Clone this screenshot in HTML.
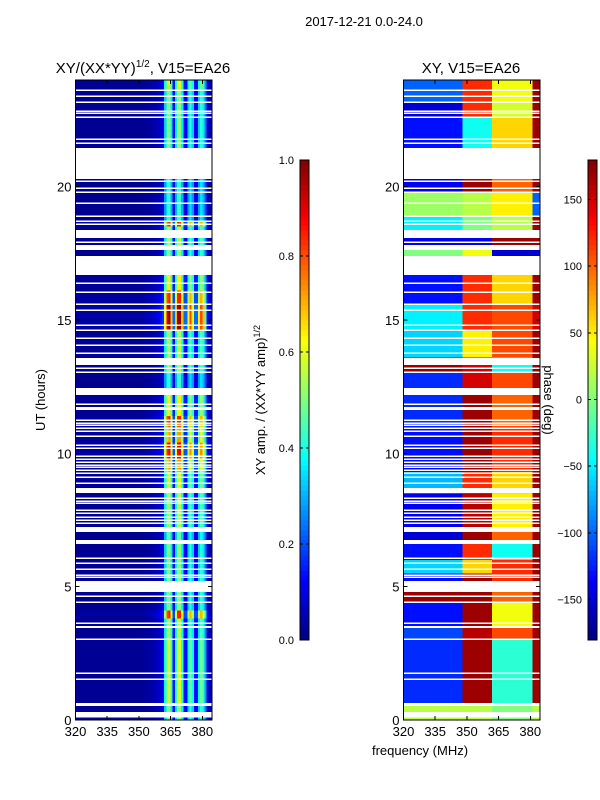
<!DOCTYPE html>
<html><head><meta charset="utf-8"><style>
body{margin:0;background:#fff;}
svg{display:block;font-family:"Liberation Sans",sans-serif;}
</style></head><body>
<svg id="fig" width="600" height="800" xmlns="http://www.w3.org/2000/svg">
<text x="364" y="26" font-size="13" text-anchor="middle">2017-12-21 0.0-24.0</text>
<text x="143" y="73" font-size="15" text-anchor="middle">XY/(XX*YY)<tspan font-size="10" dy="-6">1/2</tspan><tspan dy="6">, V15=EA26</tspan></text>
<text x="471" y="73" font-size="15" text-anchor="middle">XY, V15=EA26</text>
<text x="0" y="0" font-size="13" text-anchor="middle" transform="translate(45,400) rotate(-90)">UT (hours)</text>
<text x="420" y="755" font-size="13" text-anchor="middle">frequency (MHz)</text>
<text x="0" y="0" font-size="13" text-anchor="middle" transform="translate(265,400) rotate(-90)">XY amp. / (XX*YY amp)<tspan font-size="9" dy="-5">1/2</tspan></text>
<text x="0" y="0" font-size="13" text-anchor="middle" transform="translate(544,400) rotate(90)">phase (deg)</text>
<g id="g" shape-rendering="crispEdges"></g>
</svg>
<script>
// ---- data ----
const hourTicks=[0,5,10,15,20];
const freqTicks=[320,335,350,365,380];
const ampTicks=[0.0,0.2,0.4,0.6,0.8,1.0];
const phaseTicks=[-150,-100,-50,0,50,100,150];
// frequency profile of amplitude (1 MHz bins from 320)
const freqProfile=[0.03,0.03,0.03,0.03,0.03,0.03,0.03,0.03,0.03,0.03,0.03,0.03,0.03,0.03,0.03,0.03,0.03,0.03,0.03,0.03,
0.03,0.03,0.03,0.03,0.03,0.03,0.03,0.03,0.03,0.03,0.03,0.03,0.04,0.04,0.05,0.05,0.06,0.07,0.08,0.1,0.12,0.15,
0.55,0.8,0.85,0.6,0.2,0.6,0.85,0.85,0.6,0.2,0.2,0.55,0.7,0.55,0.2,0.2,0.55,0.7,0.6,0.4,0.12,0.08,0.08];
// amplitude blocks [startHour,endHour,level]
const ampBlocks=[[0,0.55,0.6],[0.55,1.5,0.7],[1.5,3.0,0.7],[3.0,3.8,0.65],[3.8,4.1,1.0],[4.1,4.8,0.6],[5.2,6.6,0.6],[6.6,7.05,0.55],
[7.05,8.5,0.65],[8.5,9.3,0.7],[9.3,9.8,0.85],[9.8,10.4,1.05],[10.4,11.0,0.85],[11.0,11.4,1.0],[11.4,12.2,0.75],[12.2,13.0,0.5],
[13.0,14.6,0.65],[14.6,15.6,1.15],[15.6,16.1,1.0],[16.1,16.7,0.75],[17.4,17.62,0.6],[17.8,18.5,0.65],[18.5,18.7,1.0],[18.7,20.3,0.5],
[21.45,23.6,0.6],[23.6,24,0.7]];
// phase blocks [start,end,left(320-348),mid(348-362),right(362-381),edge(381-385)]
const phaseBlocks=[[0,0.55,20,20,0,20],[0.55,3.0,-120,170,-30,170],[3.0,3.5,-110,160,110,170],[3.5,4.4,-130,170,40,170],
[4.4,4.8,170,170,100,170],[5.2,5.5,-130,170,120,170],[5.5,6.0,-60,60,120,170],[6.0,6.6,-130,120,-40,170],[6.6,7.05,-150,170,100,170],
[7.05,8.5,-140,160,50,170],[8.5,9.3,-70,120,60,170],[9.3,11.0,-130,170,120,170],[11.0,12.2,-120,170,100,170],[12.2,13.05,-120,150,110,170],
[13.05,13.6,170,150,-40,170],[13.6,14.6,-60,50,110,170],[14.6,15.6,-50,120,110,150],[15.6,16.7,-130,120,60,170],
[17.4,17.62,0,40,-150,-150],[17.62,18.1,-140,-140,170,170],[18.1,18.9,-50,0,20,170],[18.9,19.8,10,20,50,-100],[19.8,20.3,-140,170,100,170],
[21.45,22.6,-130,-40,60,170],[22.6,23.2,-150,120,30,170],[23.2,24,-100,120,40,170]];
// blank (flagged) time intervals [start,end]
const gaps=[[0.1,0.3],[0.52,0.64],[1.52,1.56],[1.74,1.78],[3.02,3.06],[3.45,3.52],[3.62,3.66],[4.4,4.44],[4.63,4.67],[4.8,5.21],[5.34,5.38],[5.42,5.46],[5.64,5.68],[5.87,5.91],
[6.05,6.09],[6.6,6.75],[7.05,7.24],[7.37,7.41],[7.48,7.52],[7.59,7.63],[7.74,7.78],[7.85,7.89],[8.12,8.16],[8.19,8.23],[8.3,8.34],[8.51,8.7],[8.87,8.91],
[9.09,9.13],[9.24,9.28],[9.35,9.39],[9.47,9.51],[9.54,9.58],[9.65,9.69],[9.77,9.81],[9.88,9.92],[10.18,10.22],[10.29,10.33],[10.63,10.67],[10.82,10.86],
[10.93,10.97],[11.04,11.08],[11.12,11.16],[11.23,11.27],[11.62,11.74],[11.83,11.87],[12.19,12.45],[13.03,13.07],[13.18,13.22],[13.31,13.57],[13.74,13.78],
[14.04,14.08],[14.3,14.34],[14.6,14.64],[14.79,14.83],[15.35,15.39],[15.58,15.62],[16.03,16.07],[16.37,16.41],[16.69,17.4],[17.62,17.81],[17.9,17.94],
[18.07,18.37],[18.58,18.62],[18.69,18.73],[18.88,18.92],[19.37,19.41],[19.78,19.82],[19.93,19.97],[20.19,20.23],[20.29,21.45],[21.62,21.66],[21.77,21.81],
[22.59,22.63],[22.74,22.78],[22.82,22.86],[23.15,23.19],[23.38,23.42],[23.6,23.64]];
// ---- helpers ----
const NS='http://www.w3.org/2000/svg';
const G=document.getElementById('g');
function mk(t,a,p){const e=document.createElementNS(NS,t);for(const k in a)e.setAttribute(k,a[k]);(p||G).appendChild(e);return e;}
function jet(v){v=Math.max(0,Math.min(1,v));const c=x=>Math.round(255*Math.max(0,Math.min(1,1.5-Math.abs(4*v-x))));return `rgb(${c(3)},${c(2)},${c(1)})`;}
const PX={L:75.5,R:403.5}, PW=136.5;
const FMIN=320,FMAX=384.6;
function xS(off,f){return off+(f-FMIN)/(FMAX-FMIN)*PW;}
function yS(h){return 720-h*(640/24);}
function ampY(v){return 640-v*480;}
function phY(p){return 399.5-p*(480/360);}
// ---- left panel ----
const gl=mk('g',{});


ampBlocks.forEach(b=>{
  freqProfile.forEach((fp,i)=>{
    const f0=FMIN+i,f1=Math.min(FMAX,f0+1);
    const r=mk('rect',{x:xS(PX.L,f0),y:yS(b[1]),width:xS(PX.L,f1)-xS(PX.L,f0)+0.3,height:yS(b[0])-yS(b[1]),fill:jet(fp*b[2])},gl);
    
    
  });
});
// ---- right panel ----
const gr=mk('g',{});


const zones=[[320,348],[348,362],[362,381],[381,FMAX]];
phaseBlocks.forEach(b=>{
  zones.forEach((z,k)=>{
    const r=mk('rect',{x:xS(PX.R,z[0]),y:yS(b[1]),width:xS(PX.R,z[1])-xS(PX.R,z[0])+0.3,height:yS(b[0])-yS(b[1]),fill:jet((b[2+k]+180)/360)},gr);
    
    
  });
});
// gaps
[PX.L,PX.R].forEach(off=>{
  gaps.forEach(g=>{
    const r=mk('rect',{x:off,y:yS(g[1]),width:PW,height:Math.max(1.5,yS(g[0])-yS(g[1])),fill:'#fff'});
    
    
  });
});
// frames and ticks
[PX.L,PX.R].forEach((off,pi)=>{
  const fr=mk('rect',{x:off,y:80,width:PW,height:640,fill:'none',stroke:'#000','stroke-width':1});
  
  
  hourTicks.forEach(h=>{
    mk('line',{x1:off,x2:off+4,y1:yS(h),y2:yS(h),stroke:'#000'});
    mk('line',{x1:off+PW,x2:off+PW-4,y1:yS(h),y2:yS(h),stroke:'#000'});
    const t=mk('text',{x:off-4,y:yS(h)+5,'font-size':13,'text-anchor':'end'});
    t.textContent=h;
    
    
  });
  freqTicks.forEach(f=>{
    const x=xS(off,f);
    mk('line',{x1:x,x2:x,y1:720,y2:716,stroke:'#000'});
    mk('line',{x1:x,x2:x,y1:80,y2:84,stroke:'#000'});
    const t=mk('text',{x:x,y:736,'font-size':13,'text-anchor':'middle'});
    t.textContent=f;
    
    
  });
});
// colorbars
function colorbar(x,name,ticks,posF,labelF){
  const cb=mk('g',{});
  
  
  for(let i=0;i<96;i++){
    mk('rect',{x:x,y:640-(i+1)*5,width:9,height:5.3,fill:jet((i+0.5)/96)},cb);
  }
  mk('rect',{x:x,y:160,width:9,height:480,fill:'none',stroke:'#000'},cb);
  ticks.forEach(v=>{
    const y=posF(v);
    mk('line',{x1:x,x2:x+3,y1:y,y2:y,stroke:'#000'},cb);
    mk('line',{x1:x+9,x2:x+6,y1:y,y2:y,stroke:'#000'},cb);
    const t=mk('text',{x:x-6,y:y+4,'font-size':11,'text-anchor':'end'},cb);
    t.textContent=labelF(v);
    
    
  });
}
colorbar(300,'amp-colorbar',ampTicks,ampY,v=>v.toFixed(1));
colorbar(588,'phase-colorbar',phaseTicks,phY,v=>v<0?'\u2212'+(-v):String(v));
</script>
</body></html>
